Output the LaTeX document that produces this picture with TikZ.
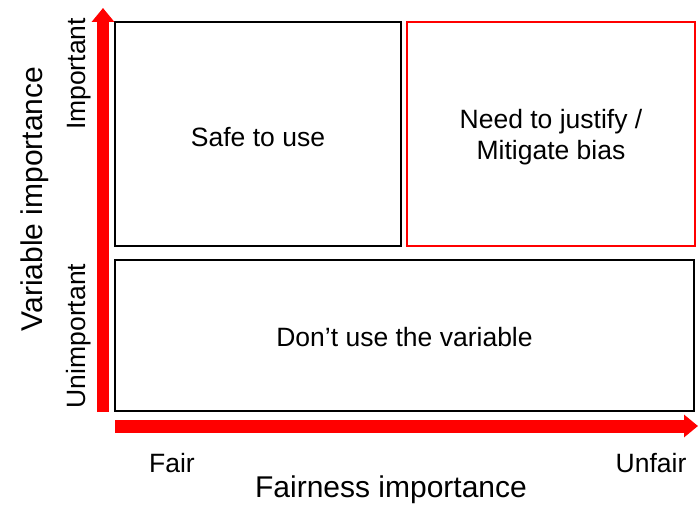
\documentclass[tikz,border=0pt]{standalone}
\usepackage{fontspec}
\setmainfont{Liberation Sans}
\usetikzlibrary{arrows.meta}

\tikzset{
    cell/.style={draw=black, line width=1.6pt, inner sep=0pt},
    celltext/.style={align=center, font=\fontsize{26.5}{31}\selectfont},
    axis/.style={red, -{Triangle[width=22pt,length=14pt]}},
    tick/.style={font=\fontsize{26.5}{31}\selectfont},
    title/.style={font=\fontsize{30}{35}\selectfont}
}

\begin{document}
\begin{tikzpicture}[x=1pt, y=-1pt, line join=miter]
    \useasboundingbox (0,0) rectangle (698,508);
    % the three quadrants
    \node[cell, minimum width=286pt, minimum height=224pt] (safe) at (258,134) {};
    \node[cell, draw=red, minimum width=288pt, minimum height=224pt] (justify) at (551,134) {};
    \node[cell, minimum width=579pt, minimum height=151pt] (dontuse) at (404.5,335.5) {};
    \node[celltext] (safetext) at ([yshift=-3pt]safe.center) {Safe to use};
    \node[celltext] (justifytext) at ([yshift=-3pt]justify.center) {Need to justify /\\Mitigate bias};
    \node[celltext] (dontusetext) at ([yshift=-2pt]dontuse.center) {Don't use the variable};
    % axes
    \coordinate (origin) at (103,412);
    \coordinate (ytop) at (103,8);
    \coordinate (xstart) at (115,426);
    \coordinate (xend) at (698,426);
    \draw[axis, line width=12pt] (origin) -- (ytop);
    \draw[axis, line width=13pt] (xstart) -- (xend);
    % axis labels
    \node[tick] (fair) at (172,463) {Fair};
    \node[tick] (unfair) at (651,463) {Unfair};
    \node[title] (xtitle) at (391,490) {Fairness importance};
    \node[tick, rotate=90] (important) at (79,74) {Important};
    \node[tick, rotate=90] (unimportant) at (79,336) {Unimportant};
    \node[title, rotate=90] (ytitle) at (35,199) {Variable importance};
\end{tikzpicture}
\end{document}
